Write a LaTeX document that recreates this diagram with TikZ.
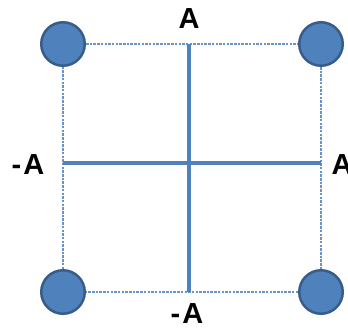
\documentclass[tikz,border=0pt]{standalone}
\usepackage{fontspec}
\setmainfont{Liberation Sans}
\usepackage{tikz}
\usetikzlibrary{positioning}
\definecolor{dotblue}{RGB}{79,129,189}
\definecolor{dotedge}{RGB}{56,93,138}

\begin{document}
\begin{tikzpicture}[x=1pt,y=-1pt,
  dot/.style={circle,draw=dotedge,fill=dotblue,line width=2.5pt,minimum size=43.5pt,inner sep=0pt},
  frame/.style={dotblue!85,line width=1.2pt,dash pattern=on 2.5pt off 1.2pt},
  axis/.style={dotblue,line width=4pt},
  lbl/.style={font=\bfseries\fontsize{29}{31}\selectfont,inner sep=0pt}]
\useasboundingbox (0,0) rectangle (348,330);
\clip (0,0) rectangle (348,330);
% corner points
\node[dot] (tl) at (63,44) {};
\node[dot] (tr) at (321,44) {};
\node[dot] (bl) at (63,292) {};
\node[dot] (br) at (321,292) {};
% dashed square
\draw[frame] (tl) -- (tr);
\draw[frame] (tr) -- (br);
\draw[frame] (br) -- (bl);
\draw[frame] (bl) -- (tl);
% axes
\coordinate (n) at (189,44);
\coordinate (s) at (189,292);
\coordinate (w) at (63,163);
\coordinate (e) at (321,163);
\draw[axis] (n) -- (s);
\draw[axis] (w) -- (e);
% labels
\node[lbl] (ltop) at (189,19) {A};
\node[lbl] (lleft) at (28,165) {-\kern2pt A};
\node[lbl] (lright) at (342,165) {A};
\node[lbl] (lbot) at (187,314) {-\kern2pt A};
\end{tikzpicture}
\end{document}
